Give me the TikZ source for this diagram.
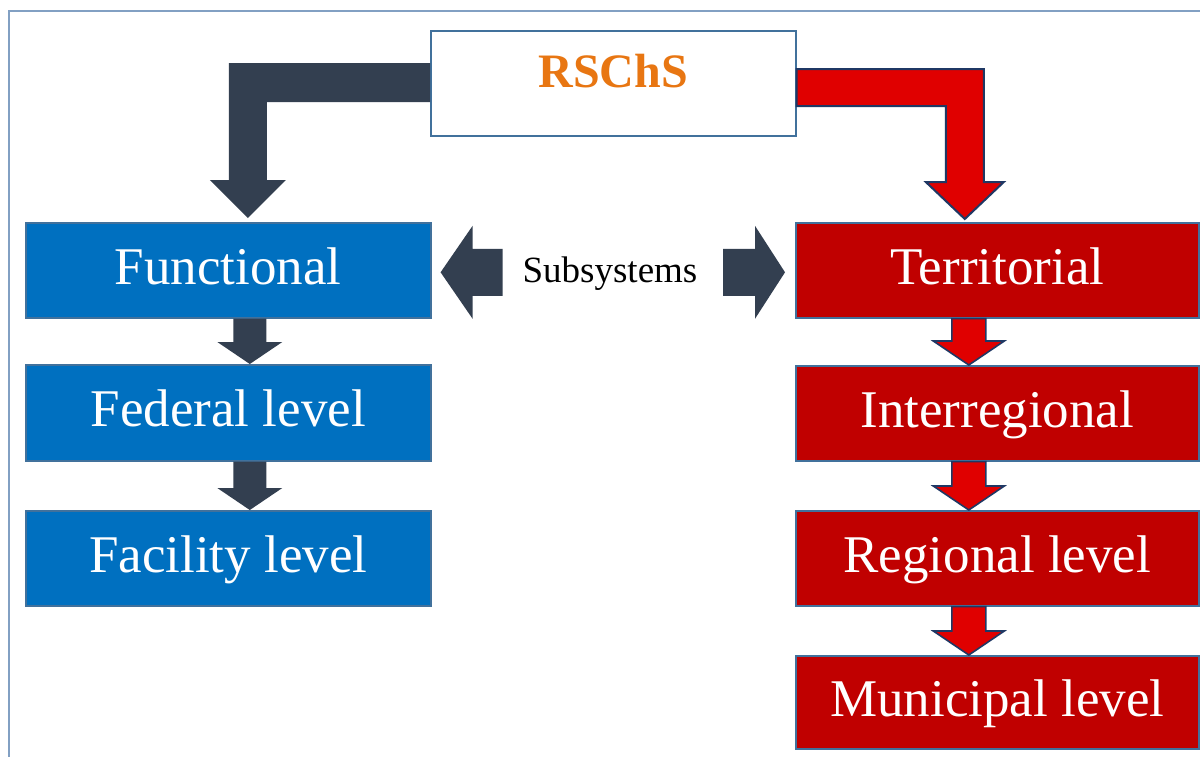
\documentclass[tikz,border=0pt]{standalone}
\usepackage{fontspec}
\setmainfont{Liberation Serif}
\usetikzlibrary{calc}
\definecolor{boxblue}{RGB}{0,112,192}
\definecolor{boxred}{RGB}{192,0,0}
\definecolor{edgeblue}{RGB}{65,113,156}
\definecolor{darkarrow}{RGB}{51,63,80}
\definecolor{redarrow}{RGB}{224,0,0}
\definecolor{navy}{RGB}{31,56,100}
\definecolor{framec}{RGB}{130,160,195}
\definecolor{orangetxt}{RGB}{232,118,18}
\tikzset{
  lvl/.style={rectangle, draw=edgeblue, line width=1.6pt, anchor=north west,
    inner sep=0pt, minimum width=405, minimum height=95, text=white,
    font=\fontsize{53}{60}\selectfont, text height=35pt, text depth=7pt},
  bluebox/.style={lvl, fill=boxblue},
  redbox/.style={lvl, fill=boxred, minimum width=403},
  darkarr/.style={fill=darkarrow},
  redarr/.style={fill=redarrow, draw=navy, line width=2pt, line join=miter},
  redarrs/.style={fill=redarrow, draw=navy, line width=1.6pt, line join=miter},
}
\newcommand\downarr[6]{%
  \path[#1] let \p1=(#2), \p2=(#3) in
  (\x2-#4pt,\y1) -- (\x2+#4pt,\y1) -- (\x2+#4pt,\y2+#6pt) -- (\x2+#5pt,\y2+#6pt)
  -- (\x2,\y2) -- (\x2-#5pt,\y2+#6pt) -- (\x2-#4pt,\y2+#6pt) -- cycle;}
\begin{document}
\begin{tikzpicture}[x=1pt,y=-1pt]
\useasboundingbox (0,0) rectangle (1200,756);
\fill[white] (0,0) rectangle (1200,756);
\draw[framec, line width=1.5pt] (9,760) -- (9,11) -- (1205,11);

% top box
\node[rectangle, draw=edgeblue, line width=1.6pt, fill=white, anchor=north west,
  inner sep=0pt, minimum width=365, minimum height=105, text=orangetxt,
  font=\fontsize{48}{56}\selectfont\bfseries, text height=33.6pt, text depth=24.6pt]
  (rschs) at (430,30) {RSChS};

% left column
\node[bluebox] (func) at (25,222) {Functional};
\node[bluebox, minimum height=96] (fed) at (25,364) {Federal level};
\node[bluebox] (fac) at (25,510) {Facility level};

% right column
\node[redbox] (terr) at (795,222) {Territorial};
\node[redbox] (inter) at (795,365) {Interregional};
\node[redbox] (reg) at (795,510) {Regional level};
\node[redbox, minimum height=93] (mun) at (795,655) {Municipal level};

% subsystems label
\node[anchor=base, inner sep=0pt, font=\fontsize{37}{44}\selectfont] (sub) at (610,282) {Subsystems};

% big left arrow
\path[darkarr] let \p1=(rschs.north west), \p2=([xshift=19.5pt,yshift=4pt]func.north) in
  (\x1,\y1-33pt) -- (\x2-19pt,\y1-33pt) -- (\x2-19pt,\y2+38pt) -- (\x2-38pt,\y2+38pt)
  -- (\x2,\y2) -- (\x2+38pt,\y2+38pt) -- (\x2+19pt,\y2+38pt) -- (\x2+19pt,\y1-72pt)
  -- (\x1,\y1-72pt) -- cycle;

% big right arrow
\path[redarr] let \p1=(rschs.north east), \p2=([xshift=-32.5pt,yshift=3pt]terr.north) in
  (\x1,\y1-39pt) -- (\x2+19pt,\y1-39pt) -- (\x2+19pt,\y2+37pt) -- (\x2+39pt,\y2+37pt)
  -- (\x2,\y2) -- (\x2-39pt,\y2+37pt) -- (\x2-19pt,\y2+37pt) -- (\x2-19pt,\y1-76pt)
  -- (\x1,\y1-76pt) -- cycle;

% small left arrows
\downarr{darkarr}{func.south}{[xshift=21.5pt]fed.north}{16.5}{32.5}{22}
\downarr{darkarr}{fed.south}{[xshift=21.5pt]fac.north}{16.5}{32.5}{22}

% small right arrows
\downarr{redarrs}{terr.south}{[xshift=-28.5pt]inter.north}{17}{35.5}{24}
\downarr{redarrs}{inter.south}{[xshift=-28.5pt]reg.north}{17}{35.5}{24}
\downarr{redarrs}{reg.south}{[xshift=-28.5pt]mun.north}{17}{35.5}{24}

% subsystem arrows
\path[darkarr] let \p1=([xshift=9pt,yshift=-2pt]func.east) in
  (\x1,\y1) -- (\x1+32pt,\y1+46.5pt) -- (\x1+32pt,\y1+23.5pt) -- (\x1+62pt,\y1+23.5pt)
  -- (\x1+62pt,\y1-23.5pt) -- (\x1+32pt,\y1-23.5pt) -- (\x1+32pt,\y1-46.5pt) -- cycle;
\path[darkarr] let \p1=([xshift=-10pt,yshift=-2pt]terr.west) in
  (\x1,\y1) -- (\x1-30pt,\y1+46.5pt) -- (\x1-30pt,\y1+23.5pt) -- (\x1-62pt,\y1+23.5pt)
  -- (\x1-62pt,\y1-23.5pt) -- (\x1-30pt,\y1-23.5pt) -- (\x1-30pt,\y1-46.5pt) -- cycle;
\end{tikzpicture}
\end{document}
